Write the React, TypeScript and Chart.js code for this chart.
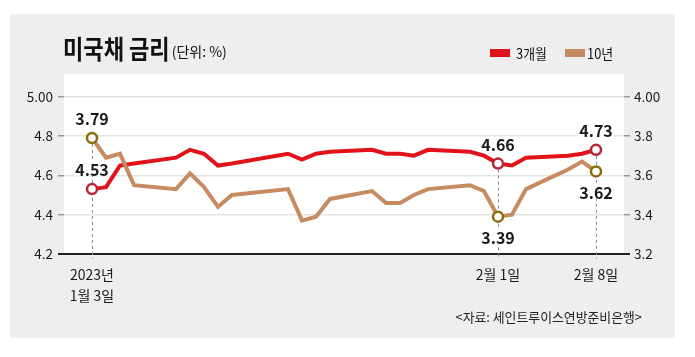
import React, { useEffect, useRef } from 'react';
import { Chart, registerables } from 'chart.js';

Chart.register(...registerables);

// ---- data ----
const title = '미국채 금리';
const unitText = '(단위: %)';
const sourceText = '<자료: 세인트루이스연방준비은행>';
const seriesNames = ['3개월', '10년'];

const dates = [
  '2023-01-03', '2023-01-04', '2023-01-05', '2023-01-06',
  '2023-01-09', '2023-01-10', '2023-01-11', '2023-01-12', '2023-01-13',
  '2023-01-17', '2023-01-18', '2023-01-19', '2023-01-20',
  '2023-01-23', '2023-01-24', '2023-01-25', '2023-01-26', '2023-01-27',
  '2023-01-30', '2023-01-31', '2023-02-01', '2023-02-02', '2023-02-03',
  '2023-02-06', '2023-02-07', '2023-02-08',
];
const bill3m = [
  4.53, 4.54, 4.65, 4.66,
  4.69, 4.73, 4.71, 4.65, 4.66,
  4.71, 4.68, 4.71, 4.72,
  4.73, 4.71, 4.71, 4.70, 4.73,
  4.72, 4.70, 4.66, 4.65, 4.69,
  4.70, 4.71, 4.73,
];
const note10y = [
  3.79, 3.69, 3.71, 3.55,
  3.53, 3.61, 3.54, 3.44, 3.50,
  3.53, 3.37, 3.39, 3.48,
  3.52, 3.46, 3.46, 3.50, 3.53,
  3.55, 3.52, 3.39, 3.40, 3.53,
  3.63, 3.67, 3.62,
];

const xTickIdx = [0, 20, 25];
const xTickLabels = [['2023년', '1월 3일'], ['2월 1일'], ['2월 8일']];
const leftTicks = [4.2, 4.4, 4.6, 4.8, 5.0];
const leftTickLabels = ['4.2', '4.4', '4.6', '4.8', '5.00'];
const rightTicks = [3.2, 3.4, 3.6, 3.8, 4.0];
const rightTickLabels = ['3.2', '3.4', '3.6', '3.8', '4.00'];
const markIdx = [0, 20, 25];
const label3mPos = ['above', 'above', 'above'];
const label10yPos = ['above', 'below', 'below'];

// ---- styles ----
const FONT = '"Noto Sans CJK KR", "Noto Sans", sans-serif';
const RED = '#e2121b';
const BROWN = '#c68b60';
const RED_MARK = '#b8233a';
const BROWN_MARK = '#8c6a0a';

const dayMs = 86400000;
const t0 = Date.parse(dates[0] + 'T00:00:00Z');
const xs = dates.map((d) => Math.round((Date.parse(d + 'T00:00:00Z') - t0) / dayMs));

function drawText(ctx: CanvasRenderingContext2D, text: string, x: number, y: number, font: string, color: string, align: CanvasTextAlign = 'left', sx = 1) {
  ctx.save();
  ctx.font = font;
  ctx.fillStyle = color;
  ctx.textAlign = align;
  ctx.textBaseline = 'alphabetic';
  ctx.translate(x, y);
  ctx.scale(sx, 1);
  ctx.fillText(text, 0, 0);
  ctx.restore();
}

const decorPlugin = {
  id: 'decor',
  beforeDraw(chart: any) {
    const ctx: CanvasRenderingContext2D = chart.ctx;
    const { left, right, top, bottom } = chart.chartArea;
    ctx.save();
    ctx.fillStyle = '#eeeeee';
    ctx.fillRect(10, 14, 665, 324);
    ctx.fillStyle = '#ffffff';
    ctx.fillRect(left, top, right - left, bottom - top);
    ctx.restore();

    // title
    const tFont = `bold 26px ${FONT}`;
    const tScale = 0.85;
    drawText(ctx, title, 63, 59, tFont, '#111111', 'left', tScale);
    ctx.save();
    ctx.font = tFont;
    const tw = ctx.measureText(title).width * tScale;
    ctx.restore();
    drawText(ctx, unitText, 63 + tw + 2, 57, `14px ${FONT}`, '#111111', 'left', 1);

    // legend
    ctx.save();
    ctx.fillStyle = RED;
    ctx.fillRect(490, 49, 20, 8);
    ctx.fillStyle = BROWN;
    ctx.fillRect(565, 49, 20, 8);
    ctx.restore();
    drawText(ctx, seriesNames[0], 516, 59, `14px ${FONT}`, '#111111', 'left', 0.92);
    drawText(ctx, seriesNames[1], 587, 59, `14px ${FONT}`, '#111111', 'left', 0.92);

    // source
    drawText(ctx, sourceText, 642, 322, `13px ${FONT}`, '#222222', 'right', 0.99);
  },
  beforeDatasetsDraw(chart: any) {
    const ctx: CanvasRenderingContext2D = chart.ctx;
    const m0 = chart.getDatasetMeta(0);
    const m1 = chart.getDatasetMeta(1);
    markIdx.forEach((i) => {
      const a = m0.data[i];
      const b = m1.data[i];
      const top = Math.min(a.y, b.y);
      const x = Math.round(a.x) + 0.5;
      ctx.save();
      ctx.strokeStyle = '#8a8a8a';
      ctx.lineWidth = 1;
      ctx.setLineDash([3, 3]);
      ctx.beginPath();
      ctx.moveTo(x, top);
      ctx.lineTo(x, chart.chartArea.bottom + 5);
      ctx.stroke();
      ctx.restore();
    });
  },
  afterDatasetsDraw(chart: any) {
    const ctx: CanvasRenderingContext2D = chart.ctx;
    const font = `bold 16px ${FONT}`;
    const draw = (dsIndex: number, values: number[], pos: string[]) => {
      const meta = chart.getDatasetMeta(dsIndex);
      markIdx.forEach((i, k) => {
        const p = meta.data[i];
        const txt = values[i].toFixed(2);
        const y = pos[k] === 'above' ? p.y - 20 : p.y + 20;
        ctx.save();
        ctx.font = font;
        const w = ctx.measureText(txt).width;
        ctx.fillStyle = '#ffffff';
        ctx.fillRect(p.x - w / 2 - 1, y - 7, w + 2, 14);
        ctx.fillStyle = '#1a1a1a';
        ctx.textAlign = 'center';
        ctx.textBaseline = 'middle';
        ctx.fillText(txt, p.x, y + 1);
        ctx.restore();
      });
    };
    draw(1, bill3m, label3mPos);
    draw(0, note10y, label10yPos);
  },
};

const isMin = (v: number, m: number) => Math.abs(v - m) < 1e-6;

export default function App() {
  const ref = useRef<HTMLCanvasElement>(null);
  useEffect(() => {
    document.body.style.margin = '0';
    const canvas = ref.current!;
    const markRadius = (ctx: any) => (markIdx.includes(ctx.dataIndex) ? 5 : 0);
    const chart = new Chart(canvas, {
      type: 'line',
      data: {
        datasets: [
          {
            label: seriesNames[1],
            data: dates.map((_, i) => ({ x: xs[i], y: note10y[i] })),
            yAxisID: 'y1',
            borderColor: BROWN,
            borderWidth: 4,
            pointRadius: markRadius,
            pointHoverRadius: markRadius,
            pointBackgroundColor: '#ffffff',
            pointBorderColor: BROWN_MARK,
            pointBorderWidth: 2.5,
            tension: 0,
            clip: false as any,
          },
          {
            label: seriesNames[0],
            data: dates.map((_, i) => ({ x: xs[i], y: bill3m[i] })),
            yAxisID: 'y',
            borderColor: RED,
            borderWidth: 4,
            pointRadius: markRadius,
            pointHoverRadius: markRadius,
            pointBackgroundColor: '#ffffff',
            pointBorderColor: RED_MARK,
            pointBorderWidth: 2.5,
            tension: 0,
            clip: false as any,
          },
        ],
      },
      options: {
        responsive: false,
        animation: false,
        devicePixelRatio: 1,
        layout: { padding: { top: 74, left: 0, right: 0, bottom: 0 } },
        plugins: { legend: { display: false }, tooltip: { enabled: false }, title: { display: false } },
        events: [],
        scales: {
          x: {
            type: 'linear',
            min: -2,
            max: 38,
            grid: { display: false },
            border: { display: false },
            afterBuildTicks: (s: any) => {
              s.ticks = xTickIdx.map((i) => ({ value: xs[i] }));
            },
            afterFit: (s: any) => {
              s.height = 103;
            },
            ticks: {
              autoSkip: false,
              maxRotation: 0,
              padding: 2,
              color: '#1a1a1a',
              font: { family: FONT, size: 14, lineHeight: 1.5 },
              callback: (_v: any, index: number) => xTickLabels[index],
            },
          },
          y: {
            position: 'left',
            min: 4.2,
            max: 5.1155,
            border: { display: false },
            afterBuildTicks: (s: any) => {
              s.ticks = leftTicks.map((v) => ({ value: v }));
            },
            afterFit: (s: any) => {
              s.width = 64;
            },
            grid: {
              color: (c: any) => (c.tick && isMin(c.tick.value, 4.2) ? '#222222' : '#e3e3e3'),
              lineWidth: (c: any) => (c.tick && isMin(c.tick.value, 4.2) ? 2 : 1.5),
              tickColor: (c: any) => (c.tick && isMin(c.tick.value, 4.2) ? '#222222' : '#9a9a9a'),
              tickLength: 6,
            },
            ticks: {
              padding: 5,
              color: '#1a1a1a',
              font: { family: FONT, size: 13.5 },
              callback: (_v: any, index: number) => leftTickLabels[index],
            },
          },
          y1: {
            position: 'right',
            min: 3.2,
            max: 4.1155,
            border: { display: false },
            afterBuildTicks: (s: any) => {
              s.ticks = rightTicks.map((v) => ({ value: v }));
            },
            afterFit: (s: any) => {
              s.width = 71;
            },
            grid: {
              drawOnChartArea: false,
              color: (c: any) => (c.tick && isMin(c.tick.value, 3.2) ? '#222222' : '#9a9a9a'),
              lineWidth: (c: any) => (c.tick && isMin(c.tick.value, 3.2) ? 2 : 1.5),
              tickLength: 6,
            },
            ticks: {
              padding: 4,
              color: '#1a1a1a',
              font: { family: FONT, size: 13.5 },
              callback: (_v: any, index: number) => rightTickLabels[index],
            },
          },
        },
      } as any,
      plugins: [decorPlugin],
    });
    return () => chart.destroy();
  }, []);
  return (
    <div style={{ position: 'relative', width: 695, height: 357, background: '#ffffff' }}>
      <canvas ref={ref} width={695} height={357} style={{ display: 'block', width: 695, height: 357 }} />
    </div>
  );
}
